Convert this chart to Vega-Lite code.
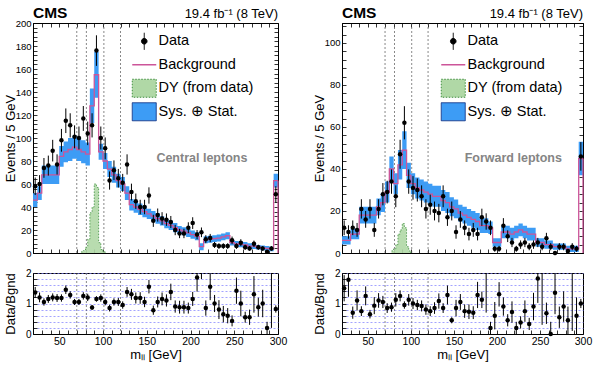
{
  "$schema": "https://vega.github.io/schema/vega-lite/v6.json",
  "padding": {"left": 3, "top": 5, "right": 0, "bottom": 0},
  "config": {
    "font": "Liberation Sans",
    "view": {"stroke": "black", "strokeWidth": 1},
    "axis": {
      "labelFont": "Liberation Sans", "titleFont": "Liberation Sans",
      "labelFontSize": 10, "titleFontSize": 13, "titleFontWeight": "normal",
      "domainColor": "black", "tickColor": "black", "labelColor": "black", "titleColor": "black",
      "grid": false, "labelFlush": false, "labelOverlap": false, "tickWidth": 0.8, "domainWidth": 1
    },
    "text": {"font": "Liberation Sans"}
  },
  "datasets": {
    "cuts": [{"cut": 70}, {"cut": 81}, {"cut": 101}, {"cut": 120}],
    "dyC": [
      {"m": 75, "v": 1}, {"m": 77.5, "v": 2}, {"m": 80, "v": 5}, {"m": 82.5, "v": 12}, {"m": 85, "v": 35},
      {"m": 87.5, "v": 40}, {"m": 90, "v": 60}, {"m": 92.5, "v": 57}, {"m": 95, "v": 9}, {"m": 97.5, "v": 3},
      {"m": 100, "v": 1}, {"m": 102.5, "v": 0}
    ],
    "dyF": [
      {"m": 77.5, "v": 1}, {"m": 80, "v": 2}, {"m": 82.5, "v": 4}, {"m": 85, "v": 9}, {"m": 87.5, "v": 11},
      {"m": 90, "v": 14}, {"m": 92.5, "v": 12}, {"m": 95, "v": 3}, {"m": 97.5, "v": 1}, {"m": 100, "v": 0}
    ],
    "central": [
      {"m": 20, "b": 46, "e": 6},
      {"m": 22.5, "d": 58, "de": 7.6, "b": 46, "e": 6, "r": 1.36, "re": 0.18},
      {"m": 27.5, "d": 60, "de": 7.7, "b": 52, "e": 6, "r": 1.2, "re": 0.16},
      {"m": 32.5, "d": 74, "de": 8.6, "b": 68, "e": 8, "r": 1.05, "re": 0.12},
      {"m": 37.5, "d": 76, "de": 8.7, "b": 68, "e": 8, "r": 1.15, "re": 0.13},
      {"m": 42.5, "d": 89, "de": 9.4, "b": 68, "e": 8, "r": 1.2, "re": 0.13},
      {"m": 47.5, "d": 77, "de": 8.8, "b": 68, "e": 8, "r": 1.18, "re": 0.13},
      {"m": 52.5, "d": 98, "de": 9.9, "b": 84, "e": 9, "r": 1.18, "re": 0.12},
      {"m": 57.5, "d": 115, "de": 10.7, "b": 88, "e": 9, "r": 1.45, "re": 0.14},
      {"m": 62.5, "d": 111, "de": 10.5, "b": 90, "e": 10, "r": 1.28, "re": 0.12},
      {"m": 67.5, "d": 101, "de": 10, "b": 92, "e": 10, "r": 1.05, "re": 0.1},
      {"m": 72.5, "d": 100, "de": 10, "b": 90, "e": 10, "r": 1.05, "re": 0.1},
      {"m": 77.5, "d": 117, "de": 10.8, "b": 88, "e": 10, "r": 1.25, "re": 0.12},
      {"m": 82.5, "d": 104, "de": 10.2, "b": 86, "e": 10, "r": 1.2, "re": 0.12},
      {"m": 87.5, "d": 111, "de": 10.5, "b": 128, "e": 15, "r": 0.87, "re": 0.08},
      {"m": 92.5, "d": 176, "de": 13.3, "b": 155, "e": 20, "r": 1.15, "re": 0.09},
      {"m": 97.5, "d": 100, "de": 10, "b": 88, "e": 7, "r": 1.18, "re": 0.12},
      {"m": 102.5, "d": 91, "de": 9.5, "b": 80, "e": 7, "r": 1.05, "re": 0.11},
      {"m": 107.5, "d": 63, "de": 7.9, "b": 73, "e": 7, "r": 0.85, "re": 0.11},
      {"m": 112.5, "d": 72, "de": 8.5, "b": 68, "e": 7, "r": 1.05, "re": 0.12},
      {"m": 117.5, "d": 65, "de": 8.1, "b": 63, "e": 6, "r": 1.05, "re": 0.13},
      {"m": 122.5, "d": 61, "de": 7.8, "b": 60, "e": 6, "r": 0.95, "re": 0.12},
      {"m": 127.5, "d": 77, "de": 8.8, "b": 52, "e": 6, "r": 1.38, "re": 0.16},
      {"m": 132.5, "d": 53, "de": 7.3, "b": 42, "e": 5, "r": 1.3, "re": 0.18},
      {"m": 137.5, "d": 45, "de": 6.7, "b": 40, "e": 5, "r": 1.18, "re": 0.18},
      {"m": 142.5, "d": 40, "de": 6.3, "b": 38, "e": 5, "r": 1.18, "re": 0.19},
      {"m": 147.5, "d": 40, "de": 6.3, "b": 36, "e": 5, "r": 1.05, "re": 0.17},
      {"m": 152.5, "d": 50, "de": 7.1, "b": 34, "e": 4.5, "r": 1.55, "re": 0.22},
      {"m": 157.5, "d": 28, "de": 5.3, "b": 32, "e": 4.5, "r": 0.78, "re": 0.15},
      {"m": 162.5, "d": 33, "de": 5.7, "b": 30, "e": 4.5, "r": 1.05, "re": 0.18},
      {"m": 167.5, "d": 30, "de": 5.5, "b": 28, "e": 4, "r": 1.15, "re": 0.21},
      {"m": 172.5, "d": 29, "de": 5.4, "b": 25.5, "e": 4, "r": 1.1, "re": 0.2},
      {"m": 177.5, "d": 27, "de": 5.2, "b": 24, "e": 4, "r": 1.38, "re": 0.27},
      {"m": 182.5, "d": 20, "de": 4.5, "b": 22, "e": 4, "r": 0.9, "re": 0.2},
      {"m": 187.5, "d": 17, "de": 4.1, "b": 20, "e": 3.5, "r": 0.88, "re": 0.21},
      {"m": 192.5, "d": 17, "de": 4.1, "b": 19, "e": 3.5, "r": 0.88, "re": 0.21},
      {"m": 197.5, "d": 22, "de": 4.7, "b": 17.5, "e": 3.5, "r": 0.85, "re": 0.18},
      {"m": 202.5, "d": 26, "de": 5.1, "b": 16, "e": 3.5, "r": 1.15, "re": 0.23},
      {"m": 207.5, "d": 16, "de": 4, "b": 14.5, "e": 3.5, "r": 1.85, "re": 0.46},
      {"m": 212.5, "d": 18, "de": 4.2, "b": 5.5, "e": 3, "r": 2.6, "re": 0.8},
      {"m": 217.5, "d": 12, "de": 3.5, "b": 11.5, "e": 3, "r": 0.85, "re": 0.25},
      {"m": 222.5, "d": 13, "de": 3.6, "b": 12, "e": 3, "r": 1.55, "re": 0.44},
      {"m": 227.5, "d": 7, "de": 2.6, "b": 12.5, "e": 3, "r": 1.0, "re": 0.28},
      {"m": 232.5, "d": 6, "de": 2.4, "b": 13, "e": 3, "r": 0.8, "re": 0.31},
      {"m": 237.5, "d": 6, "de": 2.4, "b": 14, "e": 3, "r": 0.65, "re": 0.27},
      {"m": 242.5, "d": 6, "de": 2.4, "b": 15, "e": 3, "r": 0.6, "re": 0.25},
      {"m": 247.5, "d": 11, "de": 3.3, "b": 9, "e": 2.5, "r": 0.43, "re": 0.18},
      {"m": 252.5, "d": 6, "de": 2.4, "b": 8, "e": 2.5, "r": 1.42, "re": 0.43},
      {"m": 257.5, "d": 9, "de": 3, "b": 7.5, "e": 2.5, "r": 1.0, "re": 0.42},
      {"m": 262.5, "d": 5, "de": 2.2, "b": 7, "e": 2.5, "r": 0.55, "re": 0.18},
      {"m": 267.5, "d": 4, "de": 2, "b": 6, "e": 2.5, "r": 0.55, "re": 0.25},
      {"m": 272.5, "d": 8, "de": 2.8, "b": 6, "e": 2.5, "r": 1.3, "re": 0.6},
      {"m": 277.5, "d": 5, "de": 2.2, "b": 5, "e": 2, "r": 0.88, "re": 0.31},
      {"m": 282.5, "d": 4, "de": 2, "b": 4.5, "e": 2, "r": 1.0, "re": 0.45},
      {"m": 287.5, "d": 1, "de": 1, "b": 4, "e": 2, "r": 0.2, "re": 0.2},
      {"m": 292.5, "d": 4, "de": 2, "b": 3.5, "e": 2, "r": 2.3, "re": 2.1},
      {"m": 297.5, "d": 51, "de": 7.1, "b": 63, "e": 6, "r": 0.82, "re": 0.12},
      {"m": 300, "b": 63, "e": 6}
    ],
    "forward": [
      {"m": 20, "b": 6, "e": 2},
      {"m": 22.5, "d": 12, "de": 3.5, "b": 6, "e": 2, "r": 1.5, "re": 0.43},
      {"m": 27.5, "d": 10, "de": 3.2, "b": 6, "e": 2, "r": 1.78, "re": 0.56},
      {"m": 32.5, "d": 12, "de": 3.5, "b": 9, "e": 2.5, "r": 0.7, "re": 0.2},
      {"m": 37.5, "d": 11, "de": 3.3, "b": 9, "e": 2.5, "r": 1.1, "re": 0.33},
      {"m": 42.5, "d": 21, "de": 4.6, "b": 18, "e": 4, "r": 0.75, "re": 0.16},
      {"m": 47.5, "d": 16, "de": 4, "b": 18, "e": 4, "r": 1.25, "re": 0.31},
      {"m": 52.5, "d": 21, "de": 4.6, "b": 18, "e": 4, "r": 0.65, "re": 0.14},
      {"m": 57.5, "d": 11, "de": 3.3, "b": 18, "e": 4, "r": 0.93, "re": 0.28},
      {"m": 62.5, "d": 21, "de": 4.6, "b": 22, "e": 4, "r": 1.1, "re": 0.24},
      {"m": 67.5, "d": 28, "de": 5.3, "b": 24, "e": 4.5, "r": 1.05, "re": 0.2},
      {"m": 72.5, "d": 29, "de": 5.4, "b": 29, "e": 5, "r": 0.85, "re": 0.16},
      {"m": 77.5, "d": 34, "de": 5.8, "b": 40, "e": 6, "r": 0.88, "re": 0.15},
      {"m": 82.5, "d": 27, "de": 5.2, "b": 33, "e": 5, "r": 1.12, "re": 0.22},
      {"m": 87.5, "d": 47, "de": 6.9, "b": 42, "e": 7, "r": 1.25, "re": 0.18},
      {"m": 92.5, "d": 62, "de": 7.9, "b": 49, "e": 9, "r": 0.95, "re": 0.12},
      {"m": 97.5, "d": 34, "de": 5.8, "b": 37, "e": 6, "r": 1.12, "re": 0.19},
      {"m": 102.5, "d": 31, "de": 5.6, "b": 33, "e": 5, "r": 1.0, "re": 0.18},
      {"m": 107.5, "d": 30, "de": 5.5, "b": 31, "e": 5, "r": 0.95, "re": 0.17},
      {"m": 112.5, "d": 27, "de": 5.2, "b": 30, "e": 5, "r": 0.92, "re": 0.18},
      {"m": 117.5, "d": 21, "de": 4.6, "b": 29, "e": 5, "r": 0.8, "re": 0.17},
      {"m": 122.5, "d": 23, "de": 4.8, "b": 28, "e": 5, "r": 0.75, "re": 0.16},
      {"m": 127.5, "d": 20, "de": 4.5, "b": 27, "e": 5, "r": 0.85, "re": 0.19},
      {"m": 132.5, "d": 19, "de": 4.4, "b": 27, "e": 5, "r": 1.08, "re": 0.25},
      {"m": 137.5, "d": 27, "de": 5.2, "b": 25, "e": 5, "r": 0.85, "re": 0.16},
      {"m": 142.5, "d": 17, "de": 4.1, "b": 24, "e": 5, "r": 1.28, "re": 0.31},
      {"m": 147.5, "d": 20, "de": 4.5, "b": 22, "e": 4.5, "r": 0.45, "re": 0.1},
      {"m": 152.5, "d": 10, "de": 3.2, "b": 21, "e": 4.5, "r": 0.85, "re": 0.27},
      {"m": 157.5, "d": 16, "de": 4, "b": 19, "e": 4, "r": 1.05, "re": 0.26},
      {"m": 162.5, "d": 12, "de": 3.5, "b": 18, "e": 4, "r": 0.75, "re": 0.22},
      {"m": 167.5, "d": 9, "de": 3, "b": 17, "e": 4, "r": 0.73, "re": 0.24},
      {"m": 172.5, "d": 11, "de": 3.3, "b": 16, "e": 4, "r": 0.7, "re": 0.21},
      {"m": 177.5, "d": 9, "de": 3, "b": 15, "e": 4, "r": 1.28, "re": 0.43},
      {"m": 182.5, "d": 17, "de": 4.1, "b": 13, "e": 3.5, "r": 1.12, "re": 0.27},
      {"m": 187.5, "d": 15, "de": 3.9, "b": 13, "e": 3.5, "r": 2.5, "re": 1.8},
      {"m": 192.5, "d": 12, "de": 3.5, "b": 12, "e": 3, "r": 0.2, "re": 0.2},
      {"m": 197.5, "d": 2, "de": 1.4, "b": 5, "e": 2, "r": 0.6, "re": 0.45},
      {"m": 202.5, "d": 2, "de": 1.4, "b": 5, "e": 2, "r": 1.3, "re": 0.4},
      {"m": 207.5, "d": 13, "de": 3.6, "b": 10, "e": 3, "r": 0.9, "re": 0.3},
      {"m": 212.5, "d": 8, "de": 2.8, "b": 10, "e": 3, "r": 0.45, "re": 0.2},
      {"m": 217.5, "d": 5, "de": 2.2, "b": 9, "e": 3, "r": 0.72, "re": 0.35},
      {"m": 222.5, "d": 2, "de": 1.4, "b": 10, "e": 3, "r": 0.2, "re": 0.2},
      {"m": 227.5, "d": 4, "de": 2, "b": 11, "e": 3, "r": 0.38, "re": 0.2},
      {"m": 232.5, "d": 5, "de": 2.2, "b": 10, "e": 3, "r": 0.75, "re": 0.35},
      {"m": 237.5, "d": 3, "de": 1.7, "b": 9, "e": 3, "r": 0.33, "re": 0.2},
      {"m": 242.5, "d": 4, "de": 2, "b": 9, "e": 3, "r": 0.9, "re": 0.45},
      {"m": 247.5, "d": 5, "de": 2.2, "b": 5, "e": 2, "r": 1.82, "re": 0.8},
      {"m": 252.5, "d": 3, "de": 1.7, "b": 5, "e": 2, "r": 2.5, "re": 2.2},
      {"m": 257.5, "d": 7, "de": 2.6, "b": 4, "e": 2, "r": 0.68, "re": 0.35},
      {"m": 262.5, "d": 3, "de": 1.7, "b": 4, "e": 2, "r": 0, "re": 0.4},
      {"m": 267.5, "d": 0, "de": 0, "b": 3, "e": 1.5, "r": 1.35, "re": 0.7},
      {"m": 272.5, "d": 3, "de": 1.7, "b": 3, "e": 1.5, "r": 0.55, "re": 0.35},
      {"m": 277.5, "d": 3, "de": 1.7, "b": 3, "e": 1.5, "r": 0.9, "re": 0.5},
      {"m": 282.5, "d": 1, "de": 1, "b": 2, "e": 1.5, "r": 0.45, "re": 0.45},
      {"m": 287.5, "d": 3, "de": 1.7, "b": 2, "e": 1.5, "r": 2.4, "re": 2.3},
      {"m": 292.5, "d": 2, "de": 1.4, "b": 2, "e": 1.5, "r": 0.6, "re": 0.6},
      {"m": 297.5, "d": 46, "de": 6.8, "b": 45, "e": 8, "r": 1.0, "re": 0.15},
      {"m": 300, "b": 45, "e": 8}
    ]
  },
  "hconcat": [
    {
      "spacing": 9,
      "resolve": {"scale": {"x": "independent", "y": "independent", "color": "independent"}, "legend": {"color": "independent"}},
      "vconcat": [
        {
          "width": 245, "height": 230,
          "resolve": {"axis": {"x": "independent", "y": "independent"}},
          "layer": [
            {
              "data": {"name": "cuts"},
              "mark": {"type": "rule", "color": "#555555", "strokeDash": [2, 2], "strokeWidth": 0.7},
              "encoding": {"x": {"field": "cut", "type": "quantitative", "axis": null, "scale": {"domain": [20, 300], "nice": false, "zero": false}}}
            },
            {
              "data": {"name": "dyC"},
              "mark": {"type": "area", "interpolate": "step-after", "color": "#b0d8a6", "opacity": 0.9, "line": {"color": "#3f8f3f", "strokeDash": [1.5, 1.5], "strokeWidth": 0.8}},
              "encoding": {
                "x": {"field": "m", "type": "quantitative", "axis": null},
                "y": {"field": "v", "type": "quantitative", "axis": null, "scale": {"domain": [0, 200], "nice": false}}
              }
            },
            {
              "data": {"name": "central"},
              "mark": {"type": "errorband", "interpolate": "step", "band": {"opacity": 1}},
              "encoding": {
                "x": {"field": "m", "type": "quantitative", "axis": null},
                "y": {"field": "b", "type": "quantitative", "axis": null},
                "yError": {"field": "e"},
                "color": {
                  "datum": "Sys. ⊕ Stat.", "type": "nominal",
                  "scale": {"domain": ["Data", "Background", "DY (from data)", "Sys. ⊕ Stat."], "range": ["black", "#cc5599", "#b0d8a6", "#3d9cf5"]},
                  "legend": {
                    "orient": "none", "legendX": 104, "legendY": 11, "title": null, "padding": 0,
                    "symbolSize": 400, "labelFontSize": 14.5, "labelFont": "Liberation Sans", "labelColor": "black",
                    "labelOffset": 7, "rowPadding": 0.5, "gridAlign": "all", "labelLimit": 200,
                    "encoding": {
                      "symbols": {
                        "shape": {"value": {"expr": "datum.value === 'Data' ? 'M0,-0.85V0.85M-0.28,0A0.28,0.28 0 1,1 0.28,0A0.28,0.28 0 1,1 -0.28,0Z' : datum.value === 'Background' ? 'M-1.2,0H1.2' : 'M-1.2,-0.9H1.2V0.9H-1.2Z'"}},
                        "fill": {"value": {"expr": "datum.value === 'Data' ? 'black' : datum.value === 'Background' ? 'transparent' : datum.value === 'DY (from data)' ? '#b0d8a6' : '#3d9cf5'"}},
                        "stroke": {"value": {"expr": "datum.value === 'Data' ? 'black' : datum.value === 'Background' ? '#cc5599' : datum.value === 'DY (from data)' ? '#3f8f3f' : '#1a3a8a'"}},
                        "strokeDash": {"value": {"expr": "datum.value === 'DY (from data)' ? [1.5, 1.5] : [1, 0]"}},
                        "strokeWidth": {"value": {"expr": "datum.value === 'Background' ? 1.5 : 1"}},
                        "opacity": {"value": 1}
                      }
                    }
                  }
                }
              }
            },
            {
              "data": {"name": "central"},
              "mark": {"type": "line", "interpolate": "step", "color": "#cc5599", "strokeWidth": 1.3, "clip": true},
              "encoding": {
                "x": {"field": "m", "type": "quantitative", "axis": {"orient": "top", "values": [30, 40, 50, 60, 70, 80, 90, 100, 110, 120, 130, 140, 150, 160, 170, 180, 190, 200, 210, 220, 230, 240, 250, 260, 270, 280, 290], "labels": false, "title": null, "tickSize": -4}},
                "y": {"field": "b", "type": "quantitative", "axis": {"orient": "right", "values": [4, 8, 12, 16, 20, 24, 28, 32, 36, 40, 44, 48, 52, 56, 60, 64, 68, 72, 76, 80, 84, 88, 92, 96, 100, 104, 108, 112, 116, 120, 124, 128, 132, 136, 140, 144, 148, 152, 156, 160, 164, 168, 172, 176, 180, 184, 188, 192, 196], "labels": false, "title": null, "tickSize": -4}}
              }
            },
            {
              "data": {"name": "central"},
              "transform": [{"filter": "datum.m === 300"}],
              "mark": {"type": "rule", "color": "#cc5599", "strokeWidth": 1.3},
              "encoding": {
                "x": {"field": "m", "type": "quantitative", "axis": null},
                "y": {"field": "b", "type": "quantitative", "axis": null},
                "y2": {"datum": 0}
              }
            },
            {
              "data": {"name": "central"},
              "transform": [{"filter": "isValid(datum.d)"}],
              "mark": {"type": "errorbar", "color": "black", "thickness": 1},
              "encoding": {
                "x": {"field": "m", "type": "quantitative", "axis": null},
                "y": {"field": "d", "type": "quantitative", "axis": null},
                "yError": {"field": "de"}
              }
            },
            {
              "data": {"name": "central"},
              "transform": [{"filter": "isValid(datum.d)"}],
              "mark": {"type": "point", "filled": true, "size": 20, "color": "black", "opacity": 1},
              "encoding": {
                "x": {"field": "m", "type": "quantitative", "axis": {"orient": "bottom", "values": [30, 40, 50, 60, 70, 80, 90, 100, 110, 120, 130, 140, 150, 160, 170, 180, 190, 200, 210, 220, 230, 240, 250, 260, 270, 280, 290], "labels": false, "title": null, "tickSize": -4}},
                "y": {"field": "d", "type": "quantitative", "axis": {"orient": "left", "title": "Events / 5 GeV", "titlePadding": -2, "labelPadding": 6, "values": [0, 4, 8, 12, 16, 20, 24, 28, 32, 36, 40, 44, 48, 52, 56, 60, 64, 68, 72, 76, 80, 84, 88, 92, 96, 100, 104, 108, 112, 116, 120, 124, 128, 132, 136, 140, 144, 148, 152, 156, 160, 164, 168, 172, 176, 180, 184, 188, 192, 196, 200], "labelExpr": "datum.value % 20 === 0 ? datum.label : ''", "labelFontSize": 9.5, "tickSize": -4}}
              }
            },
            {
              "data": {"values": [{}]},
              "mark": {"type": "text", "align": "left", "baseline": "alphabetic", "dy": -5, "fontSize": 15.5, "fontWeight": "bold"},
              "encoding": {"x": {"datum": 20, "type": "quantitative", "axis": null}, "y": {"datum": 200, "type": "quantitative", "axis": null}, "text": {"value": "CMS"}}
            },
            {
              "data": {"values": [{}]},
              "mark": {"type": "text", "align": "right", "baseline": "alphabetic", "dy": -5, "fontSize": 13},
              "encoding": {"x": {"datum": 300, "type": "quantitative", "axis": null}, "y": {"datum": 200, "type": "quantitative", "axis": null}, "text": {"value": "19.4 fb⁻¹ (8 TeV)"}}
            },
            {
              "data": {"values": [{}]},
              "mark": {"type": "text", "align": "center", "baseline": "middle", "fontSize": 12.5, "fontWeight": "bold", "color": "#858585"},
              "encoding": {"x": {"datum": 213, "type": "quantitative", "axis": null}, "y": {"datum": 83, "type": "quantitative", "axis": null}, "text": {"value": "Central leptons"}}
            }
          ]
        },
        {
          "width": 245, "height": 61,
          "resolve": {"axis": {"x": "independent", "y": "independent"}},
          "layer": [
            {
              "data": {"name": "cuts"},
              "mark": {"type": "rule", "color": "#555555", "strokeDash": [2, 2], "strokeWidth": 0.7},
              "encoding": {"x": {"field": "cut", "type": "quantitative", "axis": null, "scale": {"domain": [20, 300], "nice": false, "zero": false}}}
            },
            {
              "data": {"name": "central"},
              "transform": [{"filter": "isValid(datum.r)"}],
              "mark": {"type": "errorbar", "color": "black", "thickness": 1},
              "encoding": {
                "x": {"field": "m", "type": "quantitative", "axis": null},
                "y": {"field": "r", "type": "quantitative", "axis": null, "scale": {"domain": [0, 2], "nice": false, "clamp": true}},
                "yError": {"field": "re"}
              }
            },
            {
              "data": {"name": "central"},
              "transform": [{"filter": "isValid(datum.r) && datum.r <= 2"}],
              "mark": {"type": "point", "filled": true, "size": 20, "color": "black", "opacity": 1},
              "encoding": {
                "x": {"field": "m", "type": "quantitative", "axis": {"orient": "bottom", "values": [30, 40, 50, 60, 70, 80, 90, 100, 110, 120, 130, 140, 150, 160, 170, 180, 190, 200, 210, 220, 230, 240, 250, 260, 270, 280, 290, 300], "labelExpr": "datum.value % 50 === 0 ? datum.label : ''", "labelPadding": 6, "labelFontSize": 10.5, "title": "mₗₗ [GeV]", "titlePadding": 2, "tickSize": -4}},
                "y": {"field": "r", "type": "quantitative", "scale": {"domain": [0, 2], "nice": false, "clamp": true}, "axis": {"orient": "left", "title": "Data/Bgnd", "titlePadding": 8, "labelPadding": 6, "labelFontSize": 10, "values": [0, 0.2, 0.4, 0.6, 0.8, 1, 1.2, 1.4, 1.6, 1.8, 2], "labelExpr": "datum.value % 1 === 0 ? format(datum.value, 'd') : ''", "grid": true, "gridColor": "#7f7fff", "gridOpacity": 0.9, "gridDash": [2, 2], "gridWidth": 0.8, "tickSize": -4}}
              }
            }
          ]
        }
      ]
    },
    {
      "spacing": 9,
      "resolve": {"scale": {"x": "independent", "y": "independent", "color": "independent"}, "legend": {"color": "independent"}},
      "vconcat": [
        {
          "width": 241, "height": 230,
          "resolve": {"axis": {"x": "independent", "y": "independent"}},
          "layer": [
            {
              "data": {"name": "cuts"},
              "mark": {"type": "rule", "color": "#555555", "strokeDash": [2, 2], "strokeWidth": 0.7},
              "encoding": {"x": {"field": "cut", "type": "quantitative", "axis": null, "scale": {"domain": [20, 300], "nice": false, "zero": false}}}
            },
            {
              "data": {"name": "dyF"},
              "mark": {"type": "area", "interpolate": "step-after", "color": "#b0d8a6", "opacity": 0.9, "line": {"color": "#3f8f3f", "strokeDash": [1.5, 1.5], "strokeWidth": 0.8}},
              "encoding": {
                "x": {"field": "m", "type": "quantitative", "axis": null},
                "y": {"field": "v", "type": "quantitative", "axis": null, "scale": {"domain": [0, 109.5], "nice": false}}
              }
            },
            {
              "data": {"name": "forward"},
              "mark": {"type": "errorband", "interpolate": "step", "band": {"opacity": 1}},
              "encoding": {
                "x": {"field": "m", "type": "quantitative", "axis": null},
                "y": {"field": "b", "type": "quantitative", "axis": null},
                "yError": {"field": "e"},
                "color": {
                  "datum": "Sys. ⊕ Stat.", "type": "nominal",
                  "scale": {"domain": ["Data", "Background", "DY (from data)", "Sys. ⊕ Stat."], "range": ["black", "#cc5599", "#b0d8a6", "#3d9cf5"]},
                  "legend": {
                    "orient": "none", "legendX": 104, "legendY": 11, "title": null, "padding": 0,
                    "symbolSize": 400, "labelFontSize": 14.5, "labelFont": "Liberation Sans", "labelColor": "black",
                    "labelOffset": 7, "rowPadding": 0.5, "gridAlign": "all", "labelLimit": 200,
                    "encoding": {
                      "symbols": {
                        "shape": {"value": {"expr": "datum.value === 'Data' ? 'M0,-0.85V0.85M-0.28,0A0.28,0.28 0 1,1 0.28,0A0.28,0.28 0 1,1 -0.28,0Z' : datum.value === 'Background' ? 'M-1.2,0H1.2' : 'M-1.2,-0.9H1.2V0.9H-1.2Z'"}},
                        "fill": {"value": {"expr": "datum.value === 'Data' ? 'black' : datum.value === 'Background' ? 'transparent' : datum.value === 'DY (from data)' ? '#b0d8a6' : '#3d9cf5'"}},
                        "stroke": {"value": {"expr": "datum.value === 'Data' ? 'black' : datum.value === 'Background' ? '#cc5599' : datum.value === 'DY (from data)' ? '#3f8f3f' : '#1a3a8a'"}},
                        "strokeDash": {"value": {"expr": "datum.value === 'DY (from data)' ? [1.5, 1.5] : [1, 0]"}},
                        "strokeWidth": {"value": {"expr": "datum.value === 'Background' ? 1.5 : 1"}},
                        "opacity": {"value": 1}
                      }
                    }
                  }
                }
              }
            },
            {
              "data": {"name": "forward"},
              "mark": {"type": "line", "interpolate": "step", "color": "#cc5599", "strokeWidth": 1.3, "clip": true},
              "encoding": {
                "x": {"field": "m", "type": "quantitative", "axis": {"orient": "top", "values": [30, 40, 50, 60, 70, 80, 90, 100, 110, 120, 130, 140, 150, 160, 170, 180, 190, 200, 210, 220, 230, 240, 250, 260, 270, 280, 290], "labels": false, "title": null, "tickSize": -4}},
                "y": {"field": "b", "type": "quantitative", "axis": {"orient": "right", "values": [4, 8, 12, 16, 20, 24, 28, 32, 36, 40, 44, 48, 52, 56, 60, 64, 68, 72, 76, 80, 84, 88, 92, 96, 100, 104, 108], "labels": false, "title": null, "tickSize": -4}}
              }
            },
            {
              "data": {"name": "forward"},
              "transform": [{"filter": "datum.m === 300"}],
              "mark": {"type": "rule", "color": "#cc5599", "strokeWidth": 1.3},
              "encoding": {
                "x": {"field": "m", "type": "quantitative", "axis": null},
                "y": {"field": "b", "type": "quantitative", "axis": null},
                "y2": {"datum": 0}
              }
            },
            {
              "data": {"name": "forward"},
              "transform": [{"filter": "isValid(datum.d)"}],
              "mark": {"type": "errorbar", "color": "black", "thickness": 1},
              "encoding": {
                "x": {"field": "m", "type": "quantitative", "axis": null},
                "y": {"field": "d", "type": "quantitative", "axis": null},
                "yError": {"field": "de"}
              }
            },
            {
              "data": {"name": "forward"},
              "transform": [{"filter": "isValid(datum.d)"}],
              "mark": {"type": "point", "filled": true, "size": 20, "color": "black", "opacity": 1},
              "encoding": {
                "x": {"field": "m", "type": "quantitative", "axis": {"orient": "bottom", "values": [30, 40, 50, 60, 70, 80, 90, 100, 110, 120, 130, 140, 150, 160, 170, 180, 190, 200, 210, 220, 230, 240, 250, 260, 270, 280, 290], "labels": false, "title": null, "tickSize": -4}},
                "y": {"field": "d", "type": "quantitative", "axis": {"orient": "left", "title": "Events / 5 GeV", "titlePadding": -2, "labelPadding": 6, "values": [0, 4, 8, 12, 16, 20, 24, 28, 32, 36, 40, 44, 48, 52, 56, 60, 64, 68, 72, 76, 80, 84, 88, 92, 96, 100, 104, 108], "labelExpr": "datum.value % 20 === 0 ? datum.label : ''", "labelFontSize": 9.5, "tickSize": -4}}
              }
            },
            {
              "data": {"values": [{}]},
              "mark": {"type": "text", "align": "left", "baseline": "alphabetic", "dy": -5, "fontSize": 15.5, "fontWeight": "bold"},
              "encoding": {"x": {"datum": 20, "type": "quantitative", "axis": null}, "y": {"datum": 109.5, "type": "quantitative", "axis": null}, "text": {"value": "CMS"}}
            },
            {
              "data": {"values": [{}]},
              "mark": {"type": "text", "align": "right", "baseline": "alphabetic", "dy": -5, "fontSize": 13},
              "encoding": {"x": {"datum": 300, "type": "quantitative", "axis": null}, "y": {"datum": 109.5, "type": "quantitative", "axis": null}, "text": {"value": "19.4 fb⁻¹ (8 TeV)"}}
            },
            {
              "data": {"values": [{}]},
              "mark": {"type": "text", "align": "center", "baseline": "middle", "fontSize": 12.5, "fontWeight": "bold", "color": "#858585"},
              "encoding": {"x": {"datum": 219, "type": "quantitative", "axis": null}, "y": {"datum": 45, "type": "quantitative", "axis": null}, "text": {"value": "Forward leptons"}}
            }
          ]
        },
        {
          "width": 241, "height": 61,
          "resolve": {"axis": {"x": "independent", "y": "independent"}},
          "layer": [
            {
              "data": {"name": "cuts"},
              "mark": {"type": "rule", "color": "#555555", "strokeDash": [2, 2], "strokeWidth": 0.7},
              "encoding": {"x": {"field": "cut", "type": "quantitative", "axis": null, "scale": {"domain": [20, 300], "nice": false, "zero": false}}}
            },
            {
              "data": {"name": "forward"},
              "transform": [{"filter": "isValid(datum.r)"}],
              "mark": {"type": "errorbar", "color": "black", "thickness": 1},
              "encoding": {
                "x": {"field": "m", "type": "quantitative", "axis": null},
                "y": {"field": "r", "type": "quantitative", "axis": null, "scale": {"domain": [0, 2], "nice": false, "clamp": true}},
                "yError": {"field": "re"}
              }
            },
            {
              "data": {"name": "forward"},
              "transform": [{"filter": "isValid(datum.r) && datum.r <= 2"}],
              "mark": {"type": "point", "filled": true, "size": 20, "color": "black", "opacity": 1},
              "encoding": {
                "x": {"field": "m", "type": "quantitative", "axis": {"orient": "bottom", "values": [30, 40, 50, 60, 70, 80, 90, 100, 110, 120, 130, 140, 150, 160, 170, 180, 190, 200, 210, 220, 230, 240, 250, 260, 270, 280, 290, 300], "labelExpr": "datum.value % 50 === 0 ? datum.label : ''", "labelPadding": 6, "labelFontSize": 10.5, "title": "mₗₗ [GeV]", "titlePadding": 2, "tickSize": -4}},
                "y": {"field": "r", "type": "quantitative", "scale": {"domain": [0, 2], "nice": false, "clamp": true}, "axis": {"orient": "left", "title": "Data/Bgnd", "titlePadding": 8, "labelPadding": 6, "labelFontSize": 10, "values": [0, 0.2, 0.4, 0.6, 0.8, 1, 1.2, 1.4, 1.6, 1.8, 2], "labelExpr": "datum.value % 1 === 0 ? format(datum.value, 'd') : ''", "grid": true, "gridColor": "#7f7fff", "gridOpacity": 0.9, "gridDash": [2, 2], "gridWidth": 0.8, "tickSize": -4}}
              }
            }
          ]
        }
      ]
    }
  ],
  "spacing": 24,
  "resolve": {"scale": {"x": "independent", "y": "independent", "color": "independent"}, "legend": {"color": "independent"}}
}
